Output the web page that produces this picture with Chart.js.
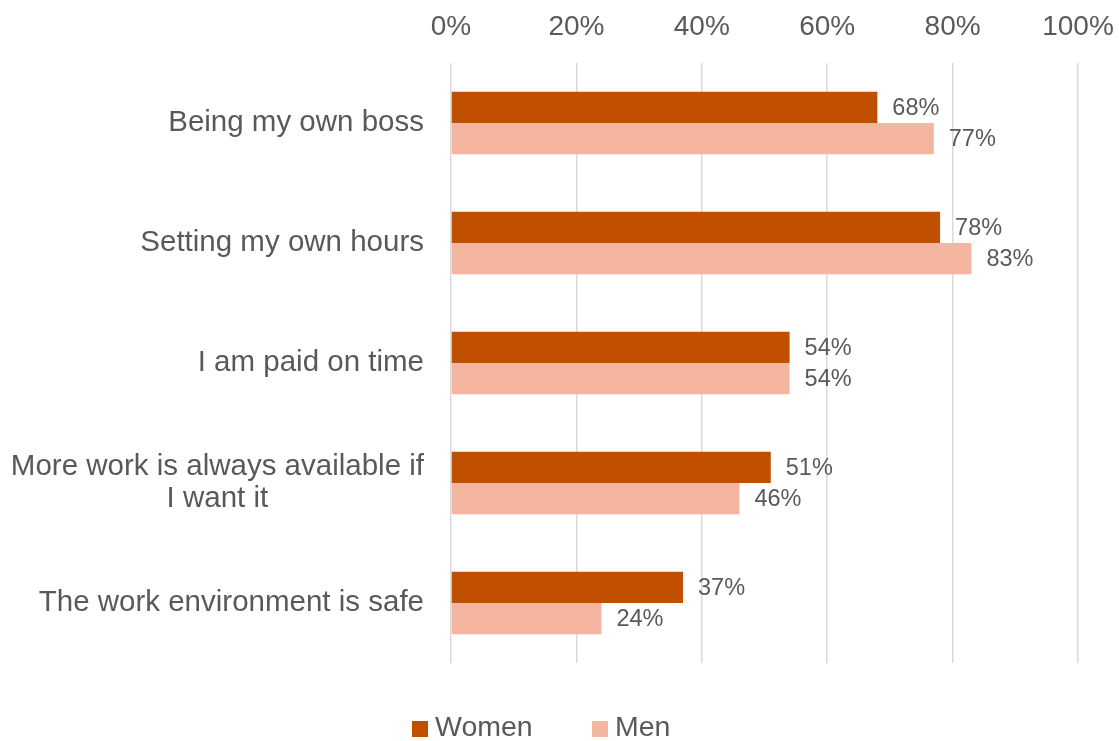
<!DOCTYPE html>
<html>
<head>
<meta charset="utf-8">
<script src="https://cdn.jsdelivr.net/npm/chart.js@4/dist/chart.umd.min.js"></script>
<style>
    body { margin: 0; background: #fff; }
    #wrap { width: 1119px; height: 741px; position: relative; }
</style>
</head>
<body>
<div id="wrap"><canvas id="reasonsChart"></canvas></div>
<script>
const categories = [
    'Being my own boss',
    'Setting my own hours',
    'I am paid on time',
    ['More work is always available if', 'I want it'],
    'The work environment is safe'
];
const womenValues = [68, 78, 54, 51, 37];
const menValues = [77, 83, 54, 46, 24];
const tickValues = [0, 20, 40, 60, 80, 100];

const FONT = '"Liberation Sans", Arial, sans-serif';
const TEXT = '#595959';
const WOMEN_COLOR = '#C04F00';
const MEN_COLOR = '#F4B6A0';

// Draw category labels: right aligned block, lines centred inside the block
const categoryLabels = {
    id: 'categoryLabels',
    afterDraw(chart) {
        const ctx = chart.ctx;
        const yScale = chart.scales.y;
        const right = chart.chartArea.left - 27;
        ctx.save();
        ctx.font = '29.5px ' + FONT;
        ctx.fillStyle = TEXT;
        ctx.textAlign = 'center';
        ctx.textBaseline = 'middle';
        categories.forEach((label, i) => {
            const lines = Array.isArray(label) ? label : [label];
            const maxW = Math.max(...lines.map(l => ctx.measureText(l).width));
            const cx = right - maxW / 2;
            const y0 = yScale.getPixelForTick(i);
            lines.forEach((line, j) => {
                ctx.fillText(line, cx, y0 + (j - (lines.length - 1) / 2) * 32);
            });
        });
        ctx.restore();
    }
};

// Value labels at the end of each bar
const valueLabels = {
    id: 'valueLabels',
    afterDatasetsDraw(chart) {
        const ctx = chart.ctx;
        ctx.save();
        ctx.font = '23.5px ' + FONT;
        ctx.fillStyle = TEXT;
        ctx.textAlign = 'left';
        ctx.textBaseline = 'middle';
        chart.data.datasets.forEach((ds, di) => {
            chart.getDatasetMeta(di).data.forEach((bar, i) => {
                ctx.fillText(ds.data[i] + '%', bar.x + 15, bar.y + 1);
            });
        });
        ctx.restore();
    }
};

// Legend drawn by hand to match the tight box/text spacing
const bottomLegend = {
    id: 'bottomLegend',
    afterDraw(chart) {
        const ctx = chart.ctx;
        const items = [
            { x: 412, ds: chart.data.datasets[0] },
            { x: 592, ds: chart.data.datasets[1] }
        ];
        ctx.save();
        ctx.font = '28.5px ' + FONT;
        ctx.textBaseline = 'middle';
        ctx.textAlign = 'left';
        items.forEach(it => {
            ctx.fillStyle = it.ds.backgroundColor;
            ctx.fillRect(it.x, 721, 16, 16);
            ctx.fillStyle = TEXT;
            ctx.fillText(it.ds.label, it.x + 23, 728);
        });
        ctx.restore();
    }
};

const ctx = document.getElementById('reasonsChart').getContext('2d');
new Chart(ctx, {
    type: 'bar',
    data: {
        labels: categories,
        datasets: [
            { label: 'Women', data: womenValues, backgroundColor: WOMEN_COLOR },
            { label: 'Men', data: menValues, backgroundColor: MEN_COLOR }
        ]
    },
    options: {
        indexAxis: 'y',
        responsive: true,
        maintainAspectRatio: false,
        animation: false,
        categoryPercentage: 0.52,
        barPercentage: 1.0,
        layout: { padding: { left: 443, right: 41, top: 0, bottom: 78 } },
        plugins: {
            legend: { display: false },
            tooltip: { enabled: false }
        },
        scales: {
            x: {
                position: 'top',
                min: 0,
                max: 100,
                afterBuildTicks: scale => { scale.ticks = tickValues.map(v => ({ value: v })); },
                afterFit: scale => {
                    scale.height = 63;
                    scale.paddingLeft = 0;
                    scale.paddingRight = 0;
                },
                ticks: {
                    callback: v => v + '%',
                    font: { size: 28, family: FONT },
                    color: TEXT,
                    padding: 19,
                    maxRotation: 0
                },
                grid: { color: '#D9D9D9', lineWidth: 1.5, drawTicks: false },
                border: { display: false }
            },
            y: {
                ticks: { display: false },
                grid: { display: false },
                border: { display: false }
            }
        }
    },
    plugins: [categoryLabels, valueLabels, bottomLegend]
});
</script>
</body>
</html>
